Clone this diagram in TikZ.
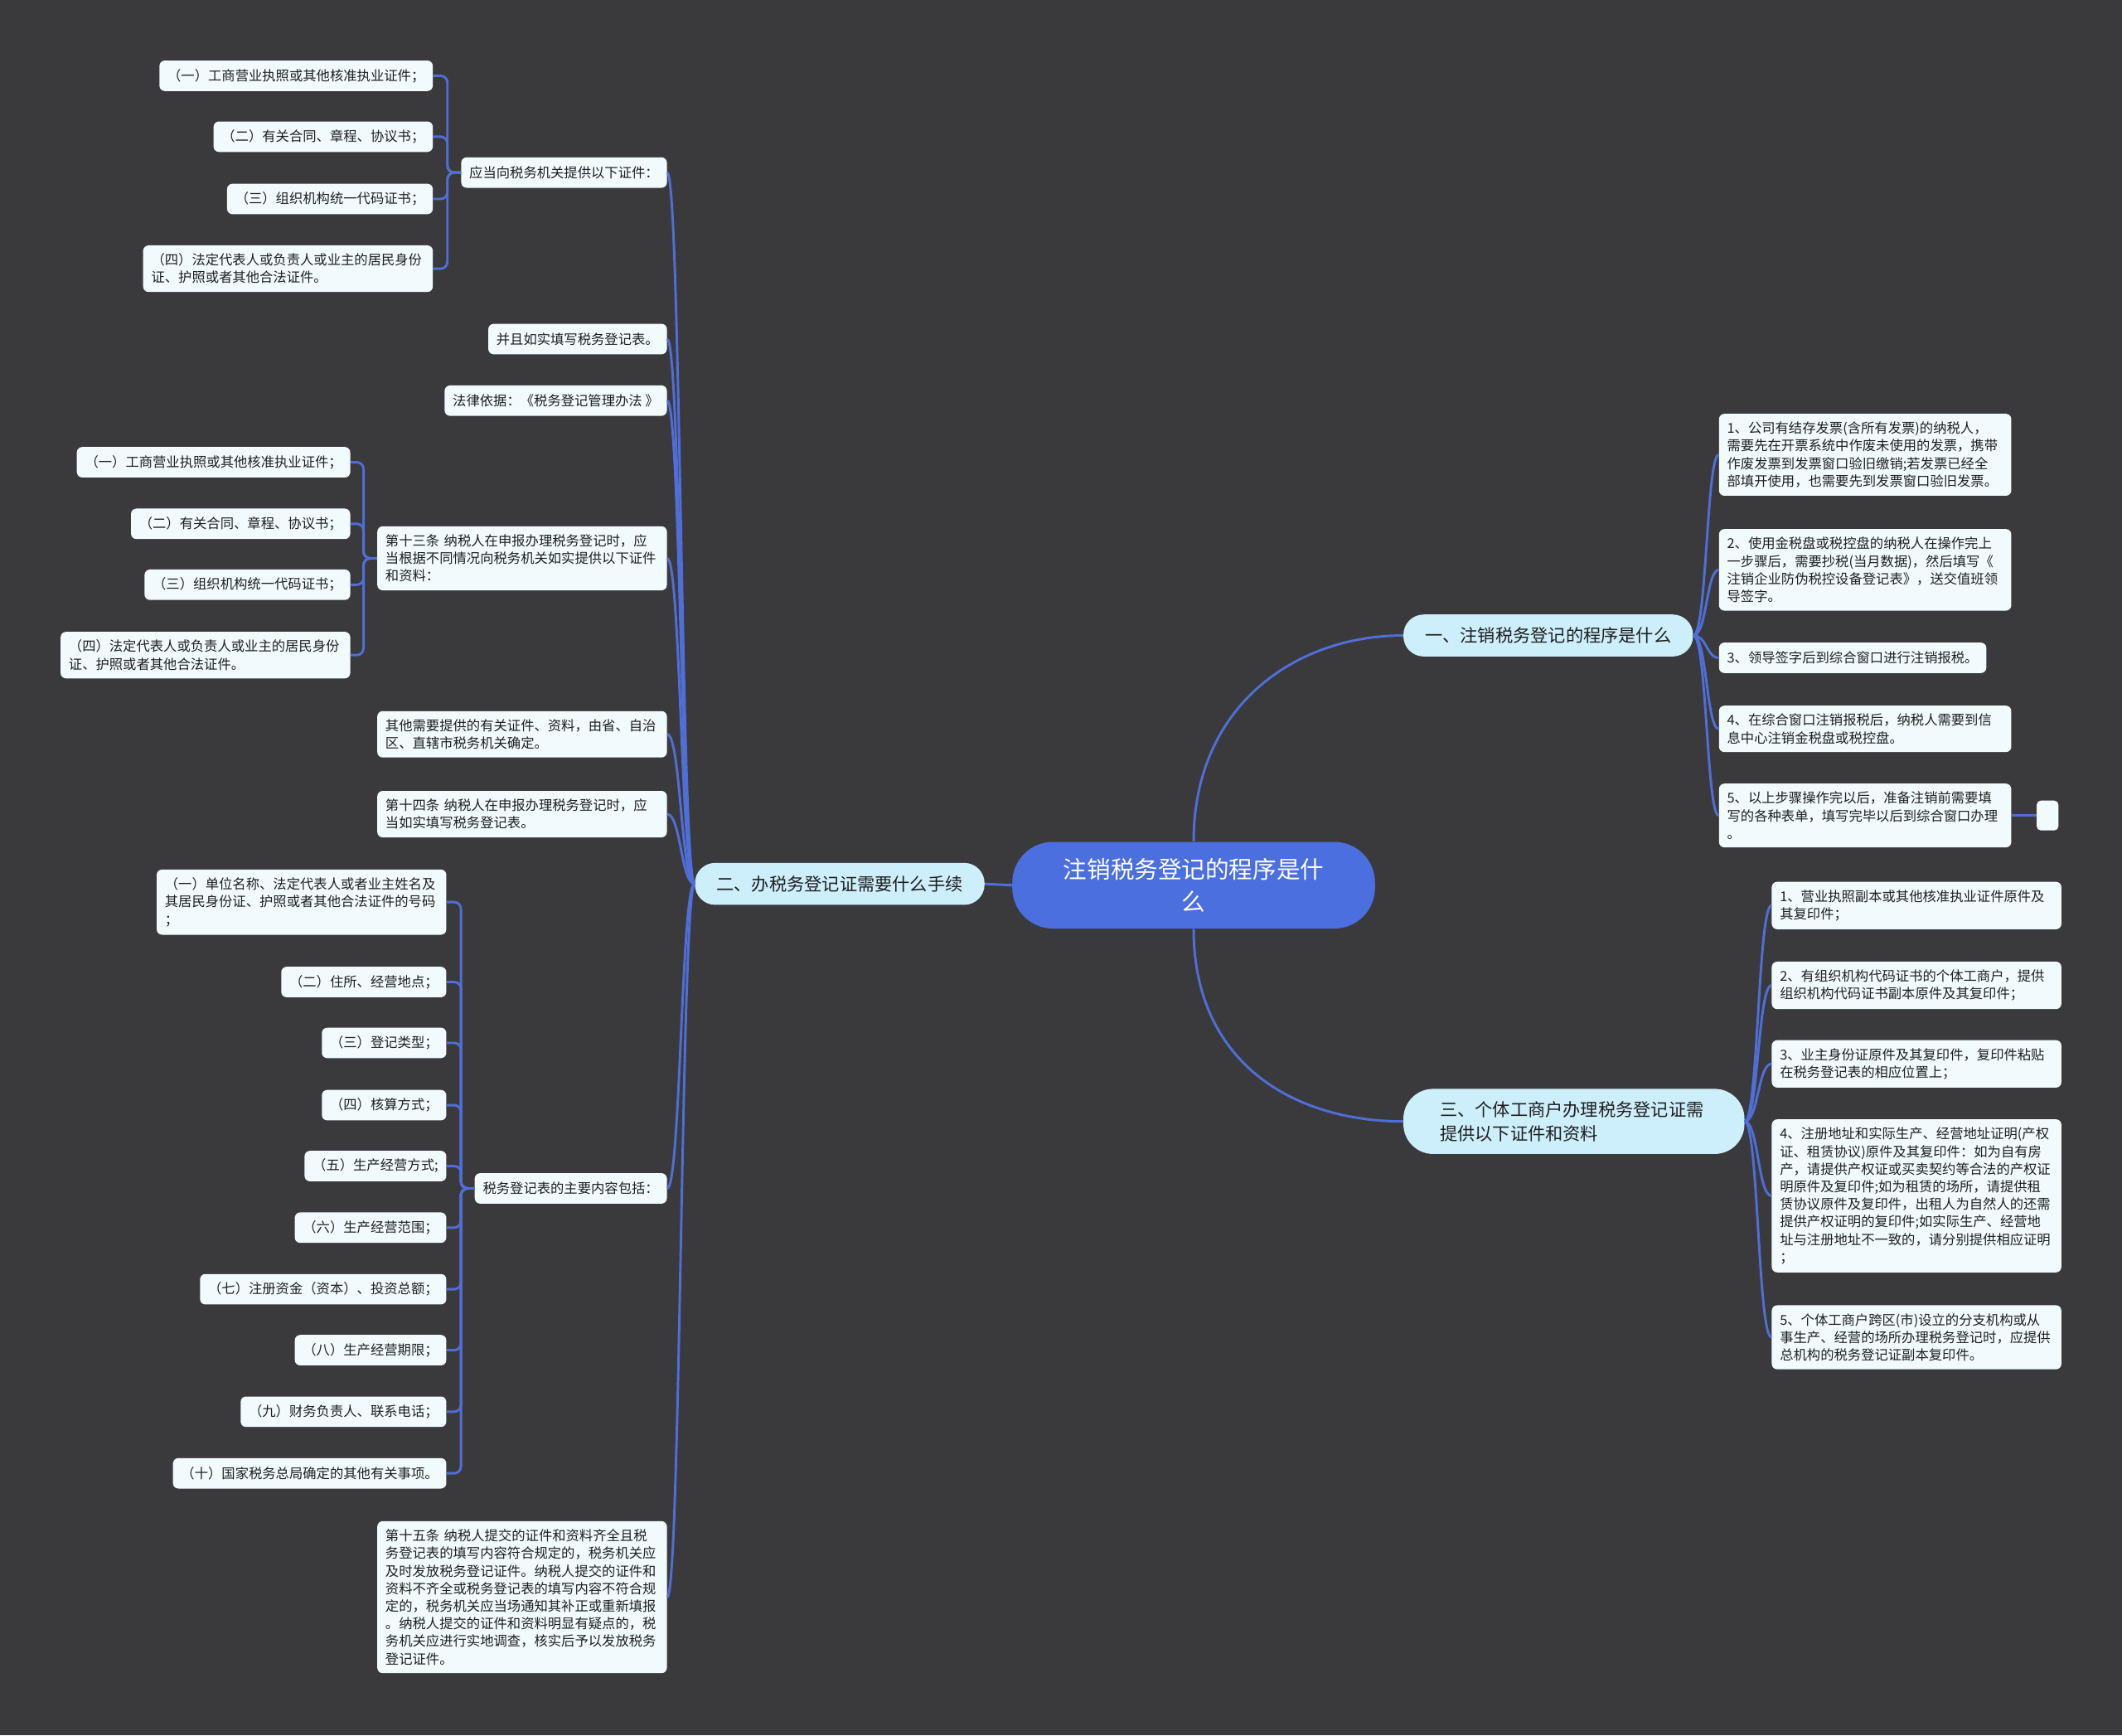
\documentclass[tikz,border=0pt]{standalone}
\usepackage{fontspec}
\setmainfont{Noto Sans CJK SC}
\definecolor{bgc}{HTML}{3A3A3C}
\definecolor{linec}{HTML}{4F6ED8}
\definecolor{cenfill}{HTML}{4B6FDF}
\definecolor{brfill}{HTML}{CDEFFC}
\definecolor{leaffill}{HTML}{F1FBFE}
\definecolor{textc}{HTML}{1E1E1E}
\begin{document}
\begin{tikzpicture}[x=1pt,y=-1pt,
  conn/.style={draw=linec, line width=1.8pt},
  brk/.style={conn, rounded corners=5pt},
  leaf/.style={fill=leaffill, rounded corners=4pt, inner xsep=6pt, inner ysep=6pt,
    font=\fontsize{10}{13}\selectfont, text=textc, minimum height=22.5pt},
  wide/.style={leaf, text width=202pt, align=left},
  wider/.style={leaf, text width=204pt, align=left},
  branch/.style={fill=brfill, rounded corners=15pt, inner xsep=16pt, inner ysep=4pt,
    font=\fontsize{13}{18}\selectfont, text=textc, minimum height=31pt},
  central/.style={fill=cenfill, rounded corners=30pt, minimum width=268pt, minimum height=64pt,
    font=\fontsize{17.5}{24}\selectfont, text=white, align=center}
]
\useasboundingbox (0,0) rectangle (1568,1282);
\fill[bgc] (0,0) rectangle (1568,1282);

% central and branches
\node[central] (c) at (882,654) {注销税务登记的程序是什\\么};
\node[branch] (b1) at (1144,469.5) {一、注销税务登记的程序是什么};
\node[branch] (b2) at (620.5,653) {二、办税务登记证需要什么手续};
\node[branch, text width=198pt, align=left, inner xsep=27pt, inner ysep=9pt, rounded corners=22pt] (b3) at (1163,828.5) {三、个体工商户办理税务登记证需\\提供以下证件和资料};

\draw[conn] (c.north) .. controls +(0,-100) and +(-80,0) .. (b1.west);
\draw[conn] (c.south) .. controls +(0,100) and +(-80,0) .. (b3.west);
\draw[conn] (c.west) -- (b2.east);

% right side: branch 1 children
\node[wider, anchor=west] (r1) at (1270,336) {1、公司有结存发票(含所有发票)的纳税人，\\需要先在开票系统中作废未使用的发票，携带\\作废发票到发票窗口验旧缴销;若发票已经全\\部填开使用，也需要先到发票窗口验旧发票。};
\node[wider, anchor=west] (r2) at (1270,421) {2、使用金税盘或税控盘的纳税人在操作完上\\一步骤后，需要抄税(当月数据)，然后填写《\\注销企业防伪税控设备登记表》，送交值班领\\导签字。};
\node[leaf, anchor=west] (r3) at (1270,486) {3、领导签字后到综合窗口进行注销报税。};
\node[wider, anchor=west] (r4) at (1270,538.5) {4、在综合窗口注销报税后，纳税人需要到信\\息中心注销金税盘或税控盘。};
\node[wider, anchor=west] (r5) at (1270,602.5) {5、以上步骤操作完以后，准备注销前需要填\\写的各种表单，填写完毕以后到综合窗口办理\\。};
\node[fill=leaffill, rounded corners=3pt, minimum width=16pt, minimum height=22pt, inner sep=0pt] (r6) at (1513,602.5) {};
\foreach \n in {r1,r2,r3,r4,r5}{
  \draw[conn] (b1.east) .. controls +(10,0) and +(-9,0) .. (\n.west);
}
\draw[conn] (r5.east) -- (r6.west);

% right side: branch 3 children
\node[wide, anchor=west] (s1) at (1309,669) {1、营业执照副本或其他核准执业证件原件及\\其复印件；};
\node[wide, anchor=west] (s2) at (1309,728) {2、有组织机构代码证书的个体工商户，提供\\组织机构代码证书副本原件及其复印件；};
\node[wide, anchor=west] (s3) at (1309,786) {3、业主身份证原件及其复印件，复印件粘贴\\在税务登记表的相应位置上；};
\node[wide, anchor=west] (s4) at (1309,883.5) {4、注册地址和实际生产、经营地址证明(产权\\证、租赁协议)原件及其复印件：如为自有房\\产，请提供产权证或买卖契约等合法的产权证\\明原件及复印件;如为租赁的场所，请提供租\\赁协议原件及复印件，出租人为自然人的还需\\提供产权证明的复印件;如实际生产、经营地\\址与注册地址不一致的，请分别提供相应证明\\；};
\node[wide, anchor=west] (s5) at (1309,988) {5、个体工商户跨区(市)设立的分支机构或从\\事生产、经营的场所办理税务登记时，应提供\\总机构的税务登记证副本复印件。};
\foreach \n in {s1,s2,s3,s4,s5}{
  \draw[conn] (b3.east) .. controls +(10,0) and +(-10,0) .. (\n.west);
}

% left side: branch 2 children
\node[leaf, anchor=east] (A) at (493,127.5) {应当向税务机关提供以下证件：};
\node[leaf, anchor=east] (B) at (493,250.5) {并且如实填写税务登记表。};
\node[leaf, anchor=east] (C) at (493,296) {法律依据：《税务登记管理办法 》};
\node[wide, anchor=east] (D) at (493,412.5) {第十三条 纳税人在申报办理税务登记时，应\\当根据不同情况向税务机关如实提供以下证件\\和资料：};
\node[wide, anchor=east] (E) at (493,542.5) {其他需要提供的有关证件、资料，由省、自治\\区、直辖市税务机关确定。};
\node[wide, anchor=east] (F) at (493,601.5) {第十四条 纳税人在申报办理税务登记时，应\\当如实填写税务登记表。};
\node[leaf, anchor=east] (G) at (493,878) {税务登记表的主要内容包括：};
\node[wide, anchor=east] (H) at (493,1180) {第十五条 纳税人提交的证件和资料齐全且税\\务登记表的填写内容符合规定的，税务机关应\\及时发放税务登记证件。纳税人提交的证件和\\资料不齐全或税务登记表的填写内容不符合规\\定的，税务机关应当场通知其补正或重新填报\\。纳税人提交的证件和资料明显有疑点的，税\\务机关应进行实地调查，核实后予以发放税务\\登记证件。};
\foreach \n in {A,B,C,D,E,F,G,H}{
  \draw[conn] (b2.west) .. controls +(-10,0) and +(10,0) .. (\n.east);
}

% A children
\node[leaf, anchor=east] (a1) at (320,56) {（一）工商营业执照或其他核准执业证件；};
\node[leaf, anchor=east] (a2) at (320,101) {（二）有关合同、章程、协议书；};
\node[leaf, anchor=east] (a3) at (320,147) {（三）组织机构统一代码证书；};
\node[wide, anchor=east] (a4) at (320,198.5) {（四）法定代表人或负责人或业主的居民身份\\证、护照或者其他合法证件。};
\foreach \n in {a1,a2,a3,a4}{
  \draw[brk] (A.west) -- ++(-10,0) |- (\n.east);
}

% D children
\node[leaf, anchor=east] (d1) at (259,341.5) {（一）工商营业执照或其他核准执业证件；};
\node[leaf, anchor=east] (d2) at (259,387) {（二）有关合同、章程、协议书；};
\node[leaf, anchor=east] (d3) at (259,432) {（三）组织机构统一代码证书；};
\node[wide, anchor=east] (d4) at (259,484) {（四）法定代表人或负责人或业主的居民身份\\证、护照或者其他合法证件。};
\foreach \n in {d1,d2,d3,d4}{
  \draw[brk] (D.west) -- ++(-10,0) |- (\n.east);
}

% G children
\node[wide, anchor=east] (g1) at (330,666.5) {（一）单位名称、法定代表人或者业主姓名及\\其居民身份证、护照或者其他合法证件的号码\\；};
\node[leaf, anchor=east] (g2) at (330,725.5) {（二）住所、经营地点；};
\node[leaf, anchor=east] (g3) at (330,770.5) {（三）登记类型；};
\node[leaf, anchor=east] (g4) at (330,816.5) {（四）核算方式；};
\node[leaf, anchor=east] (g5) at (330,861.5) {（五）生产经营方式;};
\node[leaf, anchor=east] (g6) at (330,907) {（六）生产经营范围；};
\node[leaf, anchor=east] (g7) at (330,952.5) {（七）注册资金（资本）、投资总额；};
\node[leaf, anchor=east] (g8) at (330,997.5) {（八）生产经营期限；};
\node[leaf, anchor=east] (g9) at (330,1043) {（九）财务负责人、联系电话；};
\node[leaf, anchor=east] (g10) at (330,1088.5) {（十）国家税务总局确定的其他有关事项。};
\foreach \n in {g1,g2,g3,g4,g5,g6,g7,g8,g9,g10}{
  \draw[brk] (G.west) -- ++(-10,0) |- (\n.east);
}
\end{tikzpicture}
\end{document}
